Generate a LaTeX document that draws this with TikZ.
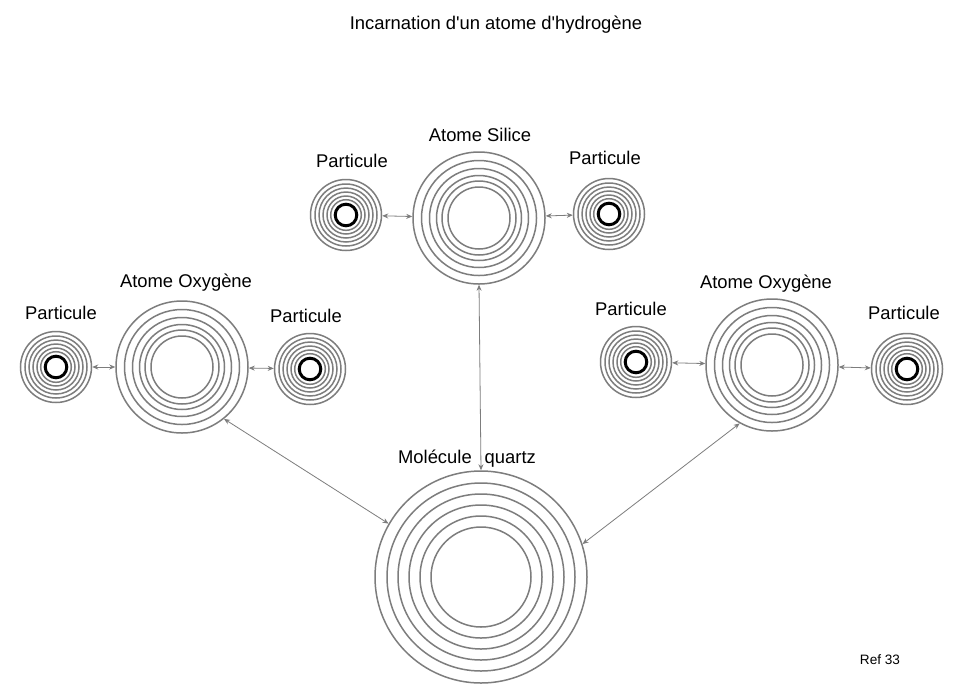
\documentclass[tikz,border=0pt]{standalone}
\usepackage{fontspec}
\setmainfont{Liberation Sans}
\usetikzlibrary{arrows.meta}
\definecolor{ring}{RGB}{125,125,125}
\begin{document}
\begin{tikzpicture}[x=1pt,y=-1pt,
  ringline/.style={draw=ring, line width=1.5pt},
  atomnode/.style={circle, ringline, minimum size=132pt, inner sep=0pt},
  particlenode/.style={circle, ringline, minimum size=71pt, inner sep=0pt},
  moleculenode/.style={circle, ringline, minimum size=212pt, inner sep=0pt},
  lbl/.style={font=\fontsize{18.4pt}{20pt}\selectfont, anchor=base, inner sep=0pt},
  link/.style={draw=ring, line width=0.8pt, {Stealth[length=6pt,width=5pt]}-{Stealth[length=6pt,width=5pt]}}
]
\fill[white] (0,0) rectangle (957,691);
\useasboundingbox (0,0) rectangle (957,691);

% atoms and molecule
\node[atomnode] (S) at (479,218) {};
\node[atomnode] (OL) at (182,367) {};
\node[atomnode] (OR) at (772,365) {};
\node[moleculenode] (M) at (481,577) {};

% particles
\node[particlenode] (PS1) at (346,215) {};
\node[particlenode] (PS2) at (609,214) {};
\node[particlenode] (PL1) at (56,367) {};
\node[particlenode] (PL2) at (310,369) {};
\node[particlenode] (PR1) at (636,362) {};
\node[particlenode] (PR2) at (907,369) {};

% inner rings
\foreach \n in {S,OL,OR}{
  \foreach \r in {57.5,49.5,42.5,37,31}
    \draw[ringline] (\n) circle[radius=\r pt];
}
\foreach \r in {94,83,72,61,50}
  \draw[ringline] (M) circle[radius=\r pt];
\foreach \n in {PS1,PS2,PL1,PL2,PR1,PR2}{
  \foreach \r in {31,27,23,19,15.3}
    \draw[ringline] (\n) circle[radius=\r pt];
  \draw[black, line width=3pt] (\n) circle[radius=10.8pt];
}

% connectors
\draw[link] (PS1) -- (S);
\draw[link] (S) -- (PS2);
\draw[link] (PL1) -- (OL);
\draw[link] (OL) -- (PL2);
\draw[link] (PR1) -- (OR);
\draw[link] (OR) -- (PR2);
\draw[link] (S.south) -- (M.north);
\draw[link] (OL.-51) -- (M.150);
\draw[link] (OR.241) -- (M.18);

% labels
\node[lbl] (title) at (496,29) {Incarnation d\textquotesingle un atome d\textquotesingle hydrogène};
\node[lbl] (lS) at (480,141.5) {Atome Silice};
\node[lbl] (lPS1) at (352,167.5) {Particule};
\node[lbl] (lPS2) at (605,164.5) {Particule};
\node[lbl] (lOL) at (186,287.5) {Atome Oxygène};
\node[lbl] (lOR) at (766,288.5) {Atome Oxygène};
\node[lbl] (lPL1) at (61,319.5) {Particule};
\node[lbl] (lPL2) at (306,322.5) {Particule};
\node[lbl] (lPR1) at (631,315.5) {Particule};
\node[lbl] (lPR2) at (904,319.5) {Particule};
\node[lbl] (lM) at (467,463.5) {Molécule\hspace{13pt}quartz};
\node[lbl, font=\fontsize{13.6pt}{15pt}\selectfont] (ref) at (880,664) {Ref 33};
\end{tikzpicture}
\end{document}
